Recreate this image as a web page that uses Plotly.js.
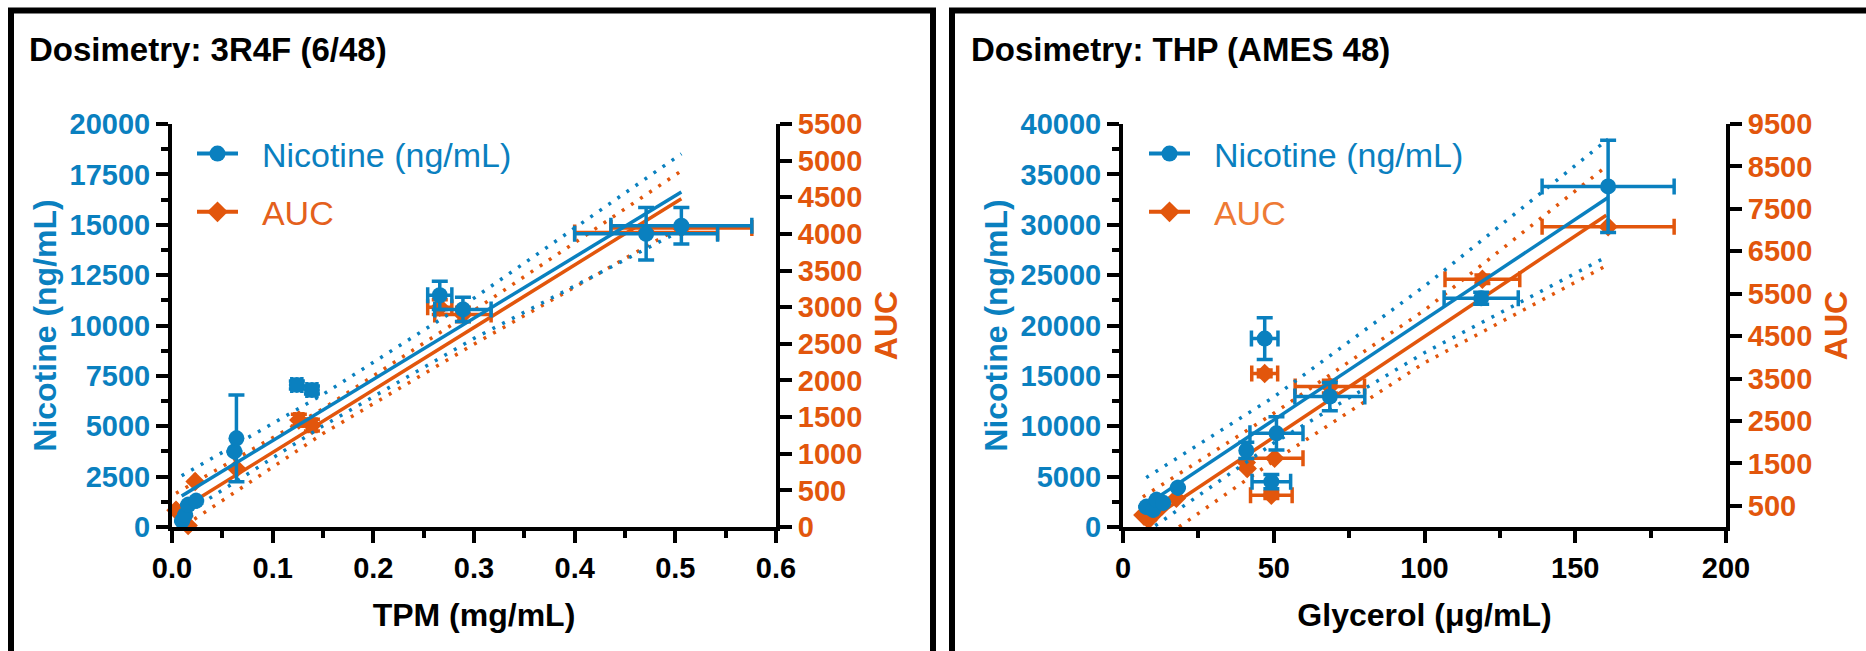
<!DOCTYPE html>
<html>
<head>
<meta charset="utf-8">
<script src="https://cdn.plot.ly/plotly-3.0.1.min.js"></script>
<style>html,body{margin:0;padding:0;background:#fff;}#chart{width:1866px;height:651px;}</style>
</head>
<body>
<div id="chart"></div>
<script>
// ---------------- DATA ----------------
// Left panel: Dosimetry 3R4F (6/48), x = TPM (mg/mL)
const tpmNic    = [0.010, 0.013, 0.016, 0.024, 0.062, 0.064, 0.124, 0.139, 0.266, 0.289, 0.471, 0.506];
const nicL      = [300, 600, 1100, 1300, 3750, 4400, 7050, 6800, 11500, 10800, 14550, 14950];
const nicLErrX  = [null, null, null, null, null, null, 0.005, 0.005, 0.012, 0.028, 0.071, 0.070];
const nicLErrY  = [null, null, null, null, null, 2150, 200, 200, 700, 600, 1300, 900];

const tpmAuc    = [0.004, 0.012, 0.016, 0.023, 0.064, 0.126, 0.139, 0.266, 0.289, 0.471, 0.506];
const aucL      = [230, 150, 20, 620, 800, 1460, 1390, 3000, 2900, 4020, 4080];
const aucLErrX  = [null, null, null, null, null, 0.004, 0.004, 0.012, 0.028, 0.071, 0.070];
const aucLErrY  = [null, null, null, null, null, 80, 80, 100, 100, null, null];

// Left panel fits (solid) and 95% bands (dotted)
const fitNicLX  = [0.0096, 0.15, 0.30, 0.506];
const fitNicL   = [1540, 5800, 10360, 16620];
const bandNicLU = [2540, 6580, 11360, 18520];
const bandNicLD = [540, 5020, 9360, 14720];
const fitAucLX  = [0.004, 0.15, 0.30, 0.506];
const fitAucL   = [200, 1445, 2725, 4480];
const bandAucLU = [460, 1615, 2955, 4860];
const bandAucLD = [-60, 1275, 2495, 4100];

// Right panel: Dosimetry THP (AMES 48), x = Glycerol (µg/mL)
const glyNic    = [7.7, 10, 11.1, 13.3, 18.2, 40.9, 47.0, 49.2, 50.9, 68.6, 118.8, 160.9];
const nicR      = [2000, 1700, 2700, 2400, 3900, 7600, 18700, 4500, 9300, 12950, 22700, 33800];
const nicRErrX  = [null, null, null, null, null, 1.0, 4.4, 6.4, 8.8, 11.6, 12.3, 21.9];
const nicRErrY  = [null, null, null, null, null, 800, 2070, 700, 1650, 1400, 600, 4580];

const glyAuc    = [6.6, 8.5, 11.6, 13.0, 17.7, 40.9, 41.2, 47.0, 49.2, 50.3, 68.6, 119.2, 160.9];
const aucR      = [280, 170, 400, 500, 680, 1520, 1380, 3620, 750, 1620, 3310, 5840, 7080];
const aucRErrX  = [null, null, null, null, null, null, null, 4.3, 6.9, 9.4, 11.5, 12.4, 21.9];
const aucRErrY  = [null, null, null, null, null, null, null, 80, 80, null, 150, 100, null];

const fitNicRX  = [7.7, 50, 100, 160.9];
const fitNicR   = [2200, 10630, 20600, 32700];
const bandNicRU = [4900, 12900, 23900, 38500];
const bandNicRD = [-500, 8330, 17300, 26900];
const fitAucRX  = [6.6, 50, 100, 160.3];
const fitAucR   = [60, 2120, 4490, 7350];
const bandAucRU = [710, 2680, 5110, 8500];
const bandAucRD = [-590, 1560, 3870, 6160];

// Tick labels
const xTicksL = [0, 0.1, 0.2, 0.3, 0.4, 0.5, 0.6];
const xTicksR = [0, 50, 100, 150, 200];
const aucTicksR = [500, 1500, 2500, 3500, 4500, 5500, 6500, 7500, 8500, 9500];

// ---------------- STYLE ----------------
const W = 1866, H = 651;
const FONT = 'Liberation Sans, Arial, Helvetica, sans-serif';
const BLUE = '#0a80bf';
const ORANGE = '#e2560c';
const ORANGE_TXT_L = '#e4601c';
const ORANGE_TXT_R = '#ee7a34';
const px = v => v / W;
const py = v => 1 - v / H;
const SP = '\u00a0\u00a0';

function band(x, y, color, xa, ya) {
  return {x, y, xaxis: xa, yaxis: ya, type: 'scatter', mode: 'lines', showlegend: false, hoverinfo: 'skip',
    line: {color, width: 3.5, dash: '3px,8px'}};
}
function fit(x, y, color, xa, ya) {
  return {x, y, xaxis: xa, yaxis: ya, type: 'scatter', mode: 'lines', showlegend: false, hoverinfo: 'skip',
    line: {color, width: 3.5}};
}
function pts(x, y, ex, ey, color, symbol, size, xa, ya) {
  return {x, y, xaxis: xa, yaxis: ya, type: 'scatter', mode: 'markers', showlegend: false, cliponaxis: false,
    marker: {color, symbol, size},
    error_x: {type: 'data', array: ex, color, thickness: 3.5, width: 8, visible: true},
    error_y: {type: 'data', array: ey, color, thickness: 3.5, width: 8, visible: true}};
}
function legendItem(name, color, symbol, lg, rank, xa, ya) {
  return {x: [null], y: [null], xaxis: xa, yaxis: ya, type: 'scatter', mode: 'lines+markers',
    name, legend: lg, legendgroup: lg + rank, legendrank: rank,
    line: {color, width: 4}, marker: {color, symbol, size: 17}};
}

const data = [
  // left panel, AUC (base axis y, right side)
  band(fitAucLX, bandAucLU, ORANGE, 'x', 'y'),
  band(fitAucLX, bandAucLD, ORANGE, 'x', 'y'),
  fit(fitAucLX, fitAucL, ORANGE, 'x', 'y'),
  pts(tpmAuc, aucL, aucLErrX, aucLErrY, ORANGE, 'diamond', 15, 'x', 'y'),
  // left panel, Nicotine (overlay y2, left side)
  band(fitNicLX, bandNicLU, BLUE, 'x', 'y2'),
  band(fitNicLX, bandNicLD, BLUE, 'x', 'y2'),
  fit(fitNicLX, fitNicL, BLUE, 'x', 'y2'),
  pts(tpmNic, nicL, nicLErrX, nicLErrY, BLUE, 'circle', 16, 'x', 'y2'),
  // right panel, AUC (base axis y3, right side)
  band(fitAucRX, bandAucRU, ORANGE, 'x2', 'y3'),
  band(fitAucRX, bandAucRD, ORANGE, 'x2', 'y3'),
  fit(fitAucRX, fitAucR, ORANGE, 'x2', 'y3'),
  pts(glyAuc, aucR, aucRErrX, aucRErrY, ORANGE, 'diamond', 15, 'x2', 'y3'),
  // right panel, Nicotine (overlay y4, left side)
  band(fitNicRX, bandNicRU, BLUE, 'x2', 'y4'),
  band(fitNicRX, bandNicRD, BLUE, 'x2', 'y4'),
  fit(fitNicRX, fitNicR, BLUE, 'x2', 'y4'),
  pts(glyNic, nicR, nicRErrX, nicRErrY, BLUE, 'circle', 16, 'x2', 'y4'),
  // legends
  legendItem(SP + '<span style="color:' + BLUE + '">Nicotine (ng/mL)</span>', BLUE, 'circle', 'legend', 1, 'x', 'y2'),
  legendItem(SP + '<span style="color:' + ORANGE_TXT_L + '">AUC</span>', ORANGE, 'diamond', 'legend', 2, 'x', 'y'),
  legendItem(SP + '<span style="color:' + BLUE + '">Nicotine (ng/mL)</span>', BLUE, 'circle', 'legend2', 1, 'x2', 'y4'),
  legendItem(SP + '<span style="color:' + ORANGE_TXT_R + '">AUC</span>', ORANGE, 'diamond', 'legend2', 2, 'x2', 'y3')
];

const tickFont = c => ({family: FONT, size: 29, color: c, weight: 700});
const titleFont = (c, s) => ({family: FONT, size: s, color: c, weight: 700});
const baseAxis = {
  showline: true, linecolor: '#000', linewidth: 4, mirror: false,
  ticks: 'outside', ticklen: 12, tickwidth: 4, tickcolor: '#000',
  showgrid: false, zeroline: false, automargin: false,
  exponentformat: 'none', separatethousands: false, fixedrange: true
};
const yDom = [1 - 527 / H, 1 - 124 / H];

const layout = {
  width: W, height: H,
  margin: {l: 0, r: 0, t: 0, b: 0, pad: 0},
  paper_bgcolor: '#fff', plot_bgcolor: 'rgba(0,0,0,0)',
  font: {family: FONT},
  showlegend: true,
  xaxis: Object.assign({}, baseAxis, {
    domain: [px(172), px(776)], range: [0, 0.6], anchor: 'y', tickvals: xTicksL, tickformat: '.1f',
    tickfont: tickFont('#000'),
    minor: {dtick: 0.05, tick0: 0, ticks: 'outside', ticklen: 7, tickwidth: 4, tickcolor: '#000', showgrid: false},
    title: {text: 'TPM (mg/mL)', font: titleFont('#000', 32), standoff: 22}
  }),
  yaxis: Object.assign({}, baseAxis, {
    domain: yDom, range: [0, 5500], anchor: 'x', side: 'right', dtick: 500, tick0: 0, tickformat: 'd',
    tickfont: tickFont(ORANGE),
    title: {text: 'AUC', font: titleFont(ORANGE, 32), standoff: 14}
  }),
  yaxis2: Object.assign({}, baseAxis, {
    overlaying: 'y', range: [0, 20000], anchor: 'x', side: 'left', dtick: 2500, tick0: 0, tickformat: 'd',
    tickfont: tickFont(BLUE),
    minor: {dtick: 1250, tick0: 0, ticks: 'outside', ticklen: 7, tickwidth: 4, tickcolor: '#000', showgrid: false},
    title: {text: 'Nicotine (ng/mL)', font: titleFont(BLUE, 32), standoff: 4}
  }),
  xaxis2: Object.assign({}, baseAxis, {
    domain: [px(1123), px(1726)], range: [0, 200], anchor: 'y3', tickvals: xTicksR,
    tickfont: tickFont('#000'),
    minor: {dtick: 25, tick0: 0, ticks: 'outside', ticklen: 7, tickwidth: 4, tickcolor: '#000', showgrid: false},
    title: {text: 'Glycerol (μg/mL)', font: titleFont('#000', 32), standoff: 22}
  }),
  yaxis3: Object.assign({}, baseAxis, {
    domain: yDom, range: [0, 9500], anchor: 'x2', side: 'right', tickvals: aucTicksR, tickformat: 'd',
    tickfont: tickFont(ORANGE),
    title: {text: 'AUC', font: titleFont(ORANGE, 32), standoff: 14}
  }),
  yaxis4: Object.assign({}, baseAxis, {
    overlaying: 'y3', range: [0, 40000], anchor: 'x2', side: 'left', dtick: 5000, tick0: 0, tickformat: 'd',
    tickfont: tickFont(BLUE),
    minor: {dtick: 2500, tick0: 0, ticks: 'outside', ticklen: 7, tickwidth: 4, tickcolor: '#000', showgrid: false},
    title: {text: 'Nicotine (ng/mL)', font: titleFont(BLUE, 32), standoff: 4}
  }),
  legend: {x: px(192), xanchor: 'left', y: py(125), yanchor: 'top', bgcolor: 'rgba(0,0,0,0)',
    font: {family: FONT, size: 34}, itemwidth: 41, traceorder: 'grouped', tracegroupgap: 11, itemclick: false},
  legend2: {x: px(1144), xanchor: 'left', y: py(125), yanchor: 'top', bgcolor: 'rgba(0,0,0,0)',
    font: {family: FONT, size: 34}, itemwidth: 41, traceorder: 'grouped', tracegroupgap: 11, itemclick: false},
  annotations: [
    {text: 'Dosimetry: 3R4F (6/48)', xref: 'paper', yref: 'paper', x: px(27), y: py(50), xanchor: 'left', yanchor: 'middle',
      showarrow: false, font: titleFont('#000', 33)},
    {text: 'Dosimetry: THP (AMES 48)', xref: 'paper', yref: 'paper', x: px(969), y: py(50), xanchor: 'left', yanchor: 'middle',
      showarrow: false, font: titleFont('#000', 33)}
  ],
  shapes: [
    {type: 'rect', xref: 'paper', yref: 'paper', x0: px(11), x1: px(933), y0: -0.2, y1: py(10.5),
      line: {color: '#000', width: 6}, fillcolor: 'rgba(0,0,0,0)', layer: 'below'},
    {type: 'rect', xref: 'paper', yref: 'paper', x0: px(952), x1: 1.2, y0: -0.2, y1: py(10.5),
      line: {color: '#000', width: 6}, fillcolor: 'rgba(0,0,0,0)', layer: 'below'}
  ]
};

Plotly.newPlot('chart', data, layout, {staticPlot: true, displayModeBar: false});
</script>
</body>
</html>
